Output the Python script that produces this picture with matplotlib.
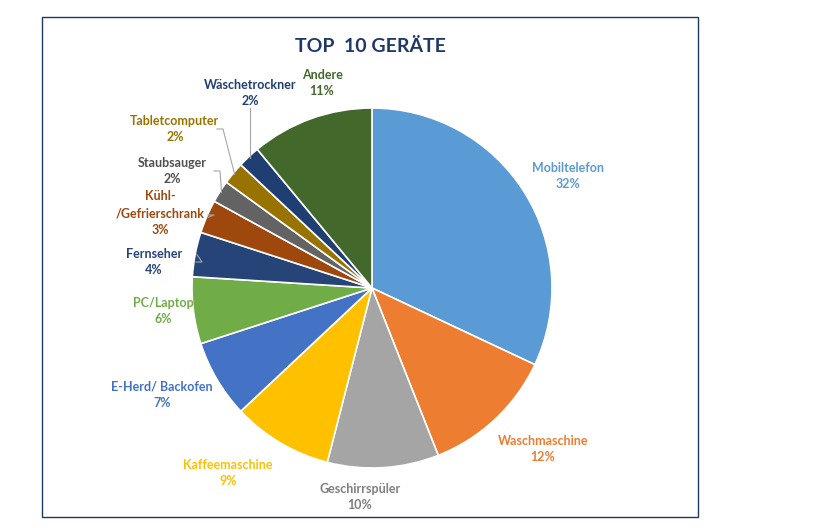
import numpy as np
import matplotlib.pyplot as plt
from matplotlib.patches import Rectangle

plt.rcParams['font.family'] = 'Lato'

labels = ['Mobiltelefon', 'Waschmaschine', 'Geschirrspüler', 'Kaffeemaschine',
          'E-Herd/ Backofen', 'PC/Laptop', 'Fernseher', 'Kühl-\n/Gefrierschrank',
          'Staubsauger', 'Tabletcomputer', 'Wäschetrockner', 'Andere']
values = [32, 12, 10, 9, 7, 6, 4, 3, 2, 2, 2, 11]
colors = ['#5B9BD5', '#ED7D31', '#A5A5A5', '#FFC000', '#4472C4', '#70AD47',
          '#264478', '#9E480E', '#636363', '#997300', '#1F3E72', '#43682B']
text_colors = ['#5B9BD5', '#ED7D31', '#7F7F7F', '#FFC000', '#4472C4', '#70AD47',
               '#264478', '#9E480E', '#4F4F4F', '#997300', '#1F3E72', '#43682B']

# label centres in pixel coordinates (x, y from top)
label_pos = [(568, 176), (543, 449), (360, 497), (228, 473), (162, 395), (163, 311),
             (154, 262), (160, 213), (172, 171), (175, 129), (250, 93), (322, 83)]
leader = [False, False, False, False, False, False, True, True, True, True, True, False]

W, H = 819, 528
fig = plt.figure(figsize=(W / 100, H / 100), dpi=100)
ax = fig.add_axes([0, 0, 1, 1])
ax.set_xlim(0, W)
ax.set_ylim(0, H)
ax.set_aspect('equal')
ax.axis('off')

cx, cy, r = 372, H - 288, 180
wedges, _ = ax.pie(values, colors=colors, startangle=90, counterclock=False,
                   center=(cx, cy), radius=r,
                   wedgeprops=dict(edgecolor='white', linewidth=1.2))
ax.set_xlim(0, W)
ax.set_ylim(0, H)

ax.add_patch(Rectangle((42, H - 517), 656, 500, fill=False, edgecolor='#1F3864', lw=1))
ax.text(370, H - 47, 'TOP  10 GERÄTE', ha='center', va='center', fontsize=14,
        fontweight='bold', color='#1F3864')

for w, lab, v, (px, py), tc, ld in zip(wedges, labels, values, label_pos, text_colors, leader):
    ax.text(px, H - py, f'{lab}\n{v}%', ha='center', va='center', fontsize=9,
            fontweight='bold', color=tc, linespacing=1.45)
    if ld:
        ang = np.deg2rad((w.theta1 + w.theta2) / 2)
        ex, ey = cx + r * 0.99 * np.cos(ang), cy + r * 0.99 * np.sin(ang)
        if lab.startswith('Wäsche'):
            sx, sy = ex, H - 108
            ax.plot([sx, ex], [sy, ey], color='#A6A6A6', lw=0.8)
        else:
            sx = px + 42 if 'Kühl' not in lab else px + 48
            sy = H - py + (0 if 'Kühl' not in lab else -2)
            ax.plot([sx, sx + 6, ex], [sy, sy, ey], color='#A6A6A6', lw=0.8)

fig.savefig('out.png', dpi=100)
